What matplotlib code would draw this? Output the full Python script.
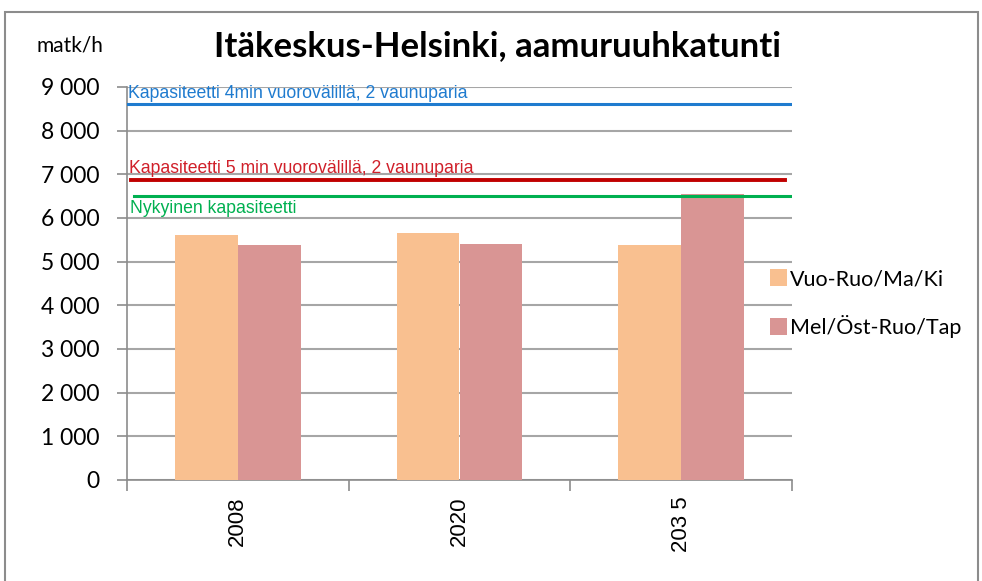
import matplotlib.pyplot as plt
from matplotlib.patches import Patch, Rectangle
from matplotlib.ticker import FuncFormatter

# data
years = ["2008", "2020", "203 5"]
vuo_ruo = [5610, 5650, 5380]
mel_ost = [5380, 5400, 6550]
series_names = ["Vuo-Ruo/Ma/Ki", "Mel/Öst-Ruo/Tap"]

cap_values = [8600, 6870, 6500]
cap_labels = ["Kapasiteetti 4min vuorovälillä, 2 vaunuparia",
              "Kapasiteetti 5 min vuorovälillä, 2 vaunuparia",
              "Nykyinen kapasiteetti"]
cap_colors = ["#1f7bcf", "#c00000", "#00b050"]
cap_text_colors = ["#1f7bcf", "#d0202a", "#00b050"]

bar_colors = ["#f9c090", "#d99594"]

W, H = 982, 581
fig = plt.figure(figsize=(W / 100, H / 100), dpi=100)

# outer chart frame
fig.patches.append(Rectangle((5 / W, -0.05), 973 / W, 1.05 - 12 / H,
                             transform=fig.transFigure, fill=False,
                             edgecolor="#8c8c8c", linewidth=1.5))

ax = fig.add_axes([127 / W, 1 - 480 / H, 665 / W, 393 / H])

x = list(range(len(years)))
bw = 0.284
ax.bar([i - bw / 2 for i in x], vuo_ruo, width=bw, color=bar_colors[0], zorder=3)
ax.bar([i + bw / 2 for i in x], mel_ost, width=bw, color=bar_colors[1], zorder=3)

ax.set_xlim(-0.5, 2.5)
ax.set_ylim(0, 9000)

# capacity lines + labels
sans = ["Liberation Sans", "DejaVu Sans"]
ax.axhline(cap_values[0], xmin=0, xmax=1, color=cap_colors[0], lw=2.2, zorder=4)
ax.axhline(cap_values[1], xmin=0.006, xmax=0.99, color=cap_colors[1], lw=2.8, zorder=4)
ax.axhline(cap_values[2], xmin=0.01, xmax=1, color=cap_colors[2], lw=2.2, zorder=4)
ax.text(-0.497, cap_values[0] + 50, cap_labels[0], color=cap_text_colors[0],
        fontsize=12.7, family=sans, va="bottom", ha="left", zorder=5)
ax.text(-0.49, cap_values[1] + 80, cap_labels[1], color=cap_text_colors[1],
        fontsize=12.7, family=sans, va="bottom", ha="left", zorder=5)
ax.text(-0.485, cap_values[2] - 80, cap_labels[2], color=cap_text_colors[2],
        fontsize=12.7, family=sans, va="top", ha="left", zorder=5)

# axes styling
ax.set_yticks(range(0, 9001, 1000))
ax.yaxis.set_major_formatter(FuncFormatter(lambda v, p: f"{int(v):,}".replace(",", " ")))
ax.grid(axis="y", color="#a6a6a6", linewidth=1.5, zorder=0)
ax.set_xticks([-0.5, 0.5, 1.5, 2.5])
ax.set_xticklabels([])
ax.set_xticks(x, minor=True)
ax.set_xticklabels(years, minor=True, rotation=90, fontsize=16, family=sans)
ax.tick_params(axis="x", which="minor", length=0, pad=12)
ax.tick_params(axis="x", which="major", length=8, color="#8c8c8c", width=1.2)
ax.tick_params(axis="y", length=7, color="#8c8c8c", width=1.2, labelsize=16.5, pad=13)
for lbl in ax.get_yticklabels():
    lbl.set_family(["Lato", "DejaVu Sans"])
for s in ["top", "right"]:
    ax.spines[s].set_visible(False)
for s in ["left", "bottom"]:
    ax.spines[s].set_color("#8c8c8c")
    ax.spines[s].set_linewidth(1.2)

fig.text(497 / W, 1 - 46 / H, "Itäkeskus-Helsinki, aamuruuhkatunti",
         ha="center", va="center", fontsize=25, fontweight="bold",
         family=["Lato", "DejaVu Sans"])
fig.text(37 / W, 1 - 46 / H, "matk/h", ha="left", va="center", fontsize=15,
         family=["Lato", "DejaVu Sans"])

handles = [Patch(facecolor=c, edgecolor="none") for c in bar_colors]
fig.legend(handles, series_names, loc="upper left",
           bbox_to_anchor=(770 / W, 1 - 269 / H), frameon=False,
           borderpad=0, borderaxespad=0,
           handlelength=0.8, handleheight=0.8, handletextpad=0.12,
           labelspacing=1.2, prop={"family": ["Lato", "DejaVu Sans"], "size": 15.5})

fig.savefig("out.png", dpi=100)
